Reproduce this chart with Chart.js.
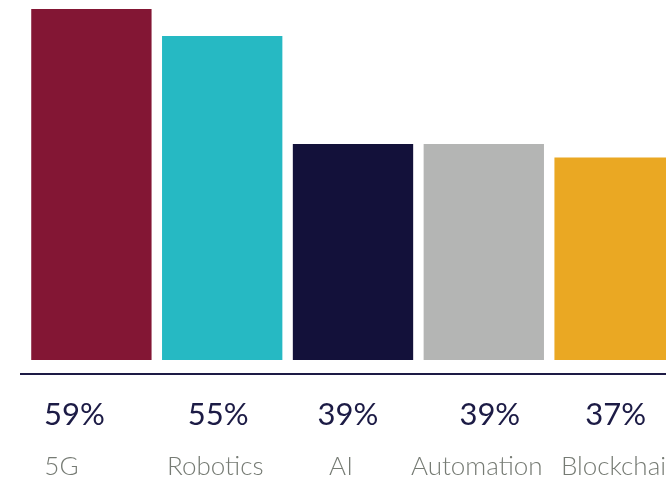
<!DOCTYPE html>
<html>
<head>
<meta charset="utf-8">
<script src="https://cdn.jsdelivr.net/npm/chart.js@4"></script>
<style>
  html, body { margin: 0; padding: 0; background: #fff; overflow: hidden; }
  #wrap { position: relative; width: 690px; height: 481px; }
</style>
</head>
<body>
<div id="wrap"><canvas id="techChart"></canvas></div>
<script>
const categories = ['5G', 'Robotics', 'AI', 'Automation', 'Blockchain'];
const shares = [59, 55, 39, 39, 37];
const barColors = ['#831634', '#26b9c3', '#13113a', '#b4b5b4', '#eaa823'];

// hand-tuned horizontal nudges for the two label rows
const pctNudge = [-17, -4, -5, 6, 1];
const nameNudge = [-30, -7, -12, -7, 6];

const baseLabels = {
  id: 'baseLabels',
  afterDraw(chart) {
    const { ctx } = chart;
    const x = chart.scales.x;
    ctx.save();
    // baseline rule
    ctx.strokeStyle = '#1d1a45';
    ctx.lineWidth = 2;
    ctx.beginPath();
    ctx.moveTo(20, 374);
    ctx.lineTo(chart.width, 374);
    ctx.stroke();

    ctx.textAlign = 'center';
    ctx.textBaseline = 'alphabetic';
    categories.forEach((name, i) => {
      const cx = x.getPixelForValue(i);
      ctx.fillStyle = '#1c1b45';
      ctx.font = '400 31px Lato, "Open Sans", sans-serif';
      ctx.fillText(shares[i] + '%', cx + pctNudge[i], 425);
      ctx.fillStyle = '#767b74';
      ctx.font = '300 26px Lato, "Open Sans", sans-serif';
      ctx.fillText(name, cx + nameNudge[i], 475);
    });
    ctx.restore();
  },
};

new Chart(document.getElementById('techChart'), {
  type: 'bar',
  data: {
    labels: categories,
    datasets: [{
      data: shares,
      backgroundColor: barColors,
      borderWidth: 0,
      barPercentage: 0.92,
      categoryPercentage: 1,
    }],
  },
  options: {
    responsive: true,
    maintainAspectRatio: false,
    animation: false,
    layout: { padding: { left: 26, right: 10, top: 9, bottom: 121 } },
    plugins: { legend: { display: false }, tooltip: { enabled: false } },
    scales: {
      x: { display: false },
      y: { display: false, min: 7, max: 59 },
    },
  },
  plugins: [baseLabels],
});
</script>
</body>
</html>
